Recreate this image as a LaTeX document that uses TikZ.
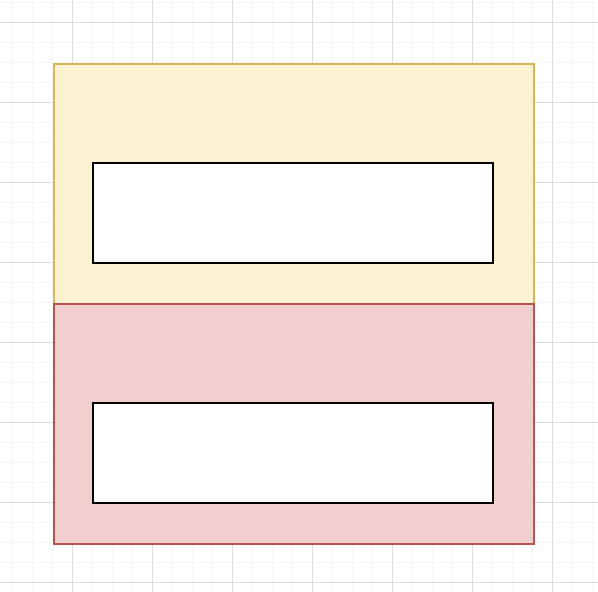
\documentclass[tikz,border=0pt]{standalone}
\usetikzlibrary{positioning}

\definecolor{gridminor}{HTML}{F5F5F5}
\definecolor{gridmajor}{HTML}{DDDDDD}
\definecolor{yellowfill}{HTML}{FCF1D0}
\definecolor{yellowline}{HTML}{D6B656}
\definecolor{redfill}{HTML}{F1CFCE}
\definecolor{redline}{HTML}{B85450}

\tikzset{
  layer/.style={draw,line width=1.6pt,minimum width=480pt,minimum height=240pt,inner sep=0pt,anchor=north west},
  slot/.style={draw=black,fill=white,line width=1.8pt,minimum width=400pt,minimum height=100pt,inner sep=0pt}
}

\begin{document}
\begin{tikzpicture}[x=1pt,y=-1pt]
\useasboundingbox (0,0) rectangle (598,592);
\fill[white] (0,0) rectangle (598,592);
% grid
\foreach \x in {12,32,...,592} \draw[gridminor,line width=1pt] (\x,0)--(\x,592);
\foreach \y in {2,22,...,592} \draw[gridminor,line width=1pt] (0,\y)--(598,\y);
\foreach \x in {72,152,...,592} \draw[gridmajor,line width=1pt] (\x,0)--(\x,592);
\foreach \y in {22,102,...,592} \draw[gridmajor,line width=1pt] (0,\y)--(598,\y);
% layers
\node[layer,draw=yellowline,fill=yellowfill] (top) at (53,63) {};
\node[layer,draw=redline,fill=redfill] (bottom) at (53,303) {};
\node[slot] (topslot) at (293,213) {};
\node[slot] (bottomslot) at (293,453) {};
\end{tikzpicture}
\end{document}
